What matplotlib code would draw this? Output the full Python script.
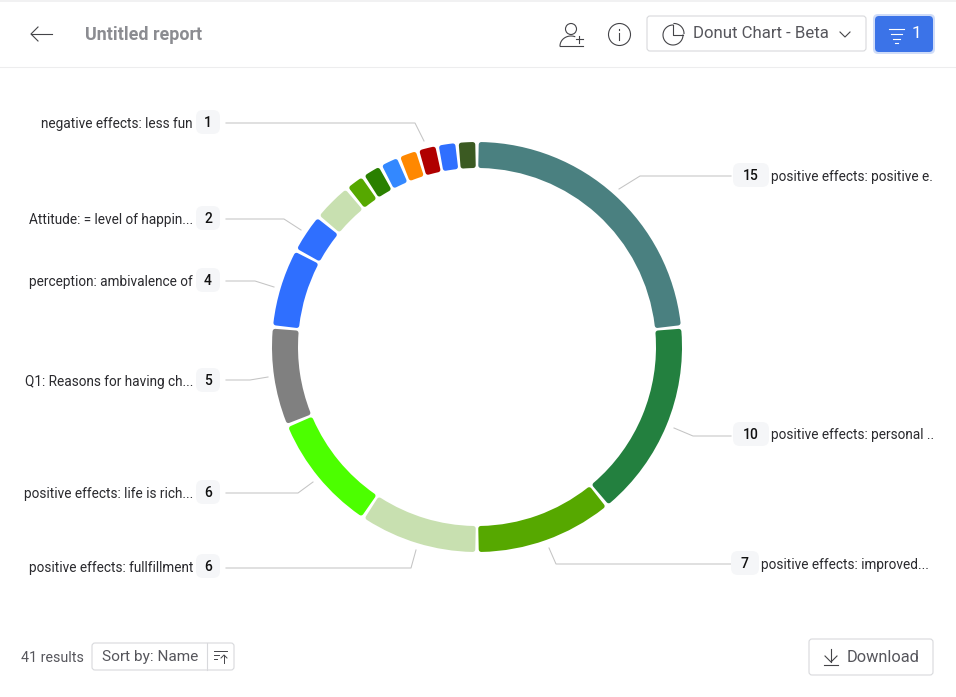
import numpy as np
import matplotlib
matplotlib.use("Agg")
import matplotlib.pyplot as plt
from matplotlib.patches import Wedge, FancyBboxPatch, Circle, Rectangle

# Data
values = [15, 10, 7, 6, 6, 5, 4, 2, 2, 1, 1, 1, 1, 1, 1, 1]
colors = ["#4A8080", "#23803F", "#56A800", "#C8E0B0", "#4CFF00", "#808080", "#2F6FFF",
          "#2F6FFF", "#C8E0B0", "#56A800", "#2A8000", "#3388FF", "#FF8800", "#B00000",
          "#2F6FFF", "#3B5A22"]
left_labels = ["negative effects: less fun", "Attitude: = level of happin...",
               "perception: ambivalence of", "Q1: Reasons for having ch...",
               "positive effects: life is rich...", "positive effects: fullfillment"]
left_counts = [1, 2, 4, 5, 6, 6]
right_labels = ["positive effects: positive e.", "positive effects: personal ..",
                "positive effects: improved..."]
right_counts = [15, 10, 7]

BLUE = "#3B73E8"
TXT = "#2A2A2E"
GREY = "#56565C"
ICON = "#444448"
LINE = "#C4C4C4"
BORDER = "#D8D9DC"
plt.rcParams["font.family"] = ["Roboto", "DejaVu Sans"]

fig = plt.figure(figsize=(9.56, 6.97), dpi=100)
ax = fig.add_axes([0, 0, 1, 1])
ax.set_xlim(0, 956)
ax.set_ylim(697, 0)
ax.axis("off")

def rbox(x0, y0, x1, y1, r=3, fc="white", ec=BORDER, lw=0.8, z=2):
    ax.add_patch(FancyBboxPatch((x0 + r, y0 + r), x1 - x0 - 2 * r, y1 - y0 - 2 * r,
                                boxstyle=f"round,pad={r},rounding_size={r}",
                                fc=fc, ec=ec, lw=lw, zorder=z))

def arc(x, y, w, h, t0, t1, **kw):
    t = np.radians(np.linspace(t0, t1, 60))
    ax.plot(x + w / 2 * np.cos(t), y + h / 2 * np.sin(t), **kw)

# Donut
cx, cy, R_out, R_in = 477, 347, 205, 179
stroke_px = 5
inset = stroke_px / 2
per = 360 / sum(values)
cum = -90
for v, c in zip(values, colors):
    a0, a1 = cum, cum + v * per
    pad = np.degrees((stroke_px / 2 + 1.5) / ((R_out + R_in) / 2))
    ax.add_patch(Wedge((cx, cy), R_out - inset, a0 + pad, a1 - pad,
                       width=R_out - R_in - 2 * inset, fc=c, ec=c,
                       lw=stroke_px * 0.72, joinstyle="round", zorder=3))
    cum = a1

# Leaders
leaders = [[(226, 123), (415, 123), (424, 141)],
           [(226, 219), (284, 219), (301, 230)],
           [(226, 281), (255, 281), (274, 287)],
           [(226, 380), (250, 380), (268, 377)],
           [(226, 493), (298, 493), (313, 482)],
           [(226, 568), (411, 568), (416, 550)],
           [(731, 176), (640, 176), (619, 189)],
           [(731, 436), (693, 436), (674, 428)],
           [(731, 564), (556, 564), (549, 548)]]
for pts in leaders:
    xs, ys = zip(*pts)
    ax.plot(xs, ys, color=LINE, lw=0.75, zorder=1, solid_joinstyle="round")

# Left labels and badges
left_y = [122, 218, 280, 380, 492, 566]
for lab, n, y in zip(left_labels, left_counts, left_y):
    rbox(196, y - 12, 220, y + 12, r=7, fc="#F5F6F8", ec="none", lw=0)
    ax.text(208, y + 1, str(n), ha="center", va="center", fontsize=10, fontweight="medium", color="#111111", zorder=4)
    ax.text(193, y + 2, lab, ha="right", va="center", fontsize=9.85, color=TXT, zorder=4)

# Right labels and badges
right_y = [175, 434, 563]
right_box = [(733, 769), (733, 769), (731, 759)]
right_text = [771, 771, 761]
for lab, n, y, (b0, b1), tx in zip(right_labels, right_counts, right_y, right_box, right_text):
    rbox(b0, y - 12, b1, y + 12, r=7, fc="#F5F6F8", ec="none", lw=0)
    ax.text((b0 + b1) / 2, y + 1, str(n), ha="center", va="center", fontsize=10, fontweight="medium", color="#111111", zorder=4)
    ax.text(tx, y + 1.5, lab, ha="left", va="center", fontsize=9.85, color=TXT, zorder=4)

# Header frame
ax.add_patch(Rectangle((0, 0), 956, 2, fc="#F1F1F2", ec="none"))
ax.plot([0, 956], [67, 67], color="#EDEDEE", lw=0.8)
ax.plot([31, 52], [34, 34], color=ICON, lw=0.8)
ax.plot([38, 31, 38], [27, 34, 41], color=ICON, lw=0.8)
ax.text(85, 35, "Untitled report", ha="left", va="center", fontsize=12.9, fontweight="bold", color="#8B8C91")

# User icon
ax.add_patch(Circle((571, 29), 5.5, fc="none", ec=ICON, lw=0.8))
arc(571, 46, 22, 20, 180, 290, color=ICON, lw=0.8)
ax.plot([560, 583], [45.5, 45.5], color=ICON, lw=0.8)
ax.plot([576, 583], [39, 39], color=ICON, lw=0.8)
ax.plot([579.5, 579.5], [35.5, 42.5], color=ICON, lw=0.8)
# Info icon
ax.add_patch(Circle((619.5, 34.5), 11, fc="none", ec=ICON, lw=0.8))
ax.plot([619.5, 619.5], [33, 40], color=ICON, lw=0.8)
ax.plot([619.5, 619.5], [28.5, 30], color=ICON, lw=0.8)

# Chart-type selector
rbox(647, 16, 866, 51, r=3)
arc(673, 35, 20, 20, 0, 270, color=ICON, lw=0.8)
ax.plot([673, 673, 683], [25, 35, 35], color=ICON, lw=0.8)
arc(674, 33.5, 20, 20, -90, 0, color=ICON, lw=0.8)
ax.text(693, 34, "Donut Chart - Beta", ha="left", va="center", fontsize=12.1, color=GREY)
ax.plot([840, 845, 850], [32, 37, 32], color=ICON, lw=0.8)

# Filter button
rbox(873, 14, 935, 54, r=5, fc="#CFDCF8", ec="none", lw=0)
rbox(875, 16, 933, 52, r=4, fc=BLUE, ec="none", lw=0)
for y, hw in zip([29, 34, 39, 43], [7.5, 5.5, 3.5, 1.5]):
    ax.plot([897 - hw, 897 + hw], [y, y], color="white", lw=0.8, zorder=4)
ax.text(916, 34, "1", ha="center", va="center", fontsize=12.5, color="white", zorder=4)

# Footer
ax.text(21, 658.5, "41 results", ha="left", va="center", fontsize=10.3, color=GREY)
rbox(92, 643, 234, 670, r=3)
ax.plot([207, 207], [643, 670], color=BORDER, lw=0.8, zorder=3)
ax.text(102, 657.5, "Sort by: Name", ha="left", va="center", fontsize=11.1, color=GREY, zorder=4)
ax.plot([214, 227], [651, 651], color=ICON, lw=0.7, zorder=4)
ax.plot([214, 219], [655, 655], color=ICON, lw=0.7, zorder=4)
ax.plot([214, 217], [659, 659], color=ICON, lw=0.7, zorder=4)
ax.plot([224, 224], [655, 663], color=ICON, lw=0.7, zorder=4)
ax.plot([221, 224, 227], [658, 655, 658], color=ICON, lw=0.7, zorder=4)

rbox(809, 639, 933, 675, r=3)
ax.plot([831, 831], [649, 662], color=ICON, lw=0.8, zorder=4)
ax.plot([825, 831, 837], [656, 662, 656], color=ICON, lw=0.8, zorder=4)
ax.plot([824, 838], [665, 665], color=ICON, lw=0.8, zorder=4)
ax.text(847, 657, "Download", ha="left", va="center", fontsize=11.8, color=GREY, zorder=4)

fig.savefig("out.png", dpi=100)
